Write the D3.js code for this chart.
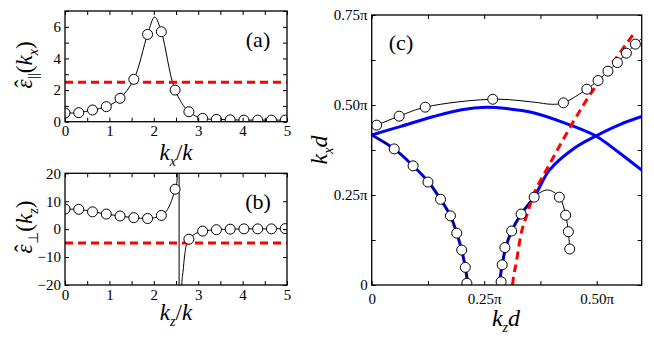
<!DOCTYPE html>
<html>
<head>
<meta charset="utf-8">
<script src="https://cdn.jsdelivr.net/npm/d3@7"></script>
<style>
body { margin: 0; background: #fff; }
svg { display: block; font-family: "Liberation Serif", "Times New Roman", serif; }
</style>
</head>
<body>
<svg id="fig" width="654" height="343"></svg>
<script>
"use strict";

// ---- panel (a): eps_par(kx) ----
const aKx = [0, 0.31, 0.62, 0.93, 1.24, 1.55, 1.86, 2.17, 2.48, 2.79, 3.1, 3.41, 3.72, 4.03, 4.34, 4.65, 4.96];
const aEps = [0.55, 0.57, 0.74, 0.95, 1.48, 2.68, 5.52, 5.69, 2.0, 0.63, 0.21, 0.15, 0.12, 0.1, 0.1, 0.1, 0.1];
const aPeak = [[2.02, 6.62]];
const aLevel = 2.5;

// ---- panel (b): eps_perp(kz) ----
const bKz = [0, 0.31, 0.62, 0.93, 1.24, 1.55, 1.86, 2.17, 2.48, 2.79, 3.1, 3.41, 3.72, 4.03, 4.34, 4.65, 4.96];
const bEps = [7.2, 7.1, 6.2, 5.4, 4.7, 4.1, 3.8, 4.9, 14.3, -3.6, -0.7, -0.2, 0.0, 0.1, 0.1, 0.1, 0.2];
const bPoleLeft = [[2.52, 17], [2.545, 26]];
const bPole = [[2.57, 25], [2.57, -25]];
const bPoleRight = [[2.625, -25], [2.63, -20], [2.66, -15], [2.69, -10], [2.74, -5.2]];
const bLevel = -5;

// ---- panel (c): kx d vs kz d (units of pi) ----
const cUpper = [[0.011, 0.444], [0.061, 0.469], [0.119, 0.494], [0.269, 0.516], [0.426, 0.506],
  [0.478, 0.544], [0.503, 0.568], [0.525, 0.594], [0.546, 0.618], [0.566, 0.644], [0.586, 0.669]];
const cUpperLine = [[0.36, 0.508], [0.40, 0.502], [0.6, 0.685]];
const cLowLeft = [[0.05, 0.378], [0.092, 0.331], [0.125, 0.286], [0.153, 0.238], [0.175, 0.192],
  [0.189, 0.144], [0.2, 0.097], [0.208, 0.049], [0.2115, 0.005]];
const cLowLeftStart = [[0, 0.4167]];
const cLowRight = [[0.2876, 0.009], [0.29, 0.056], [0.296, 0.104], [0.311, 0.15], [0.332, 0.197],
  [0.361, 0.244], [0.417, 0.244], [0.431, 0.194], [0.437, 0.148], [0.44, 0.1]];
const cLowRightPeak = [0.391, 0.264];
const blueArcTop = [[0, 0.4167], [0.063, 0.44], [0.136, 0.4675], [0.2, 0.487], [0.254, 0.4936],
  [0.30, 0.49], [0.357, 0.479], [0.431, 0.449], [0.498, 0.414], [0.542, 0.375], [0.6, 0.319]];
const blueArcLeft = [[0, 0.4167], [0.05, 0.378], [0.092, 0.331], [0.125, 0.288], [0.153, 0.238],
  [0.175, 0.192], [0.189, 0.144], [0.2, 0.097], [0.208, 0.049], [0.214, 0]];
const blueArcRight = [[0.283, 0], [0.29, 0.056], [0.298, 0.104], [0.311, 0.15], [0.332, 0.197],
  [0.361, 0.244], [0.395, 0.319], [0.45, 0.38], [0.498, 0.414], [0.55, 0.445], [0.6, 0.468]];
const redCurve = [[0.313, 0], [0.316, 0.03], [0.321, 0.06], [0.333, 0.148], [0.346, 0.199],
  [0.361, 0.255], [0.395, 0.335], [0.446, 0.449], [0.487, 0.532], [0.54, 0.625], [0.586, 0.704]];

const svg = d3.select("#fig");
const serif = '"Liberation Serif", "Times New Roman", serif';

function near(list, v) {
    return list.some(t => Math.abs(t - v) < 1e-9);
}

// boxed axes with inward ticks on every side
function drawAxes(g, x, y, o) {
    const [x0, x1] = x.range();
    const [y0, y1] = y.range();
    const style = sel => {
        sel.attr("font-family", serif).attr("font-size", 15);
        sel.select(".domain").remove();
        sel.selectAll(".tick line").attr("stroke", "#000").attr("stroke-width", 1);
        sel.selectAll(".tick text").attr("fill", "#000");
    };
    const lab = (labels, fmt) => d => near(labels, d) ? fmt(d) : "";
    g.append("g").attr("transform", `translate(0,${y0})`)
        .call(d3.axisBottom(x).tickValues(o.xTicks).tickSizeInner(-4).tickSizeOuter(0)
            .tickPadding(o.padX).tickFormat(lab(o.xLabels, o.fmtX))).call(style);
    g.append("g").attr("transform", `translate(0,${y1})`)
        .call(d3.axisTop(x).tickValues(o.xTicks).tickSizeInner(-4).tickSizeOuter(0).tickFormat("")).call(style);
    g.append("g").attr("transform", `translate(${x0},0)`)
        .call(d3.axisLeft(y).tickValues(o.yTicks).tickSizeInner(-4).tickSizeOuter(0)
            .tickPadding(o.padY).tickFormat(lab(o.yLabels, o.fmtY))).call(style);
    g.append("g").attr("transform", `translate(${x1},0)`)
        .call(d3.axisRight(y).tickValues(o.yTicks).tickSizeInner(-4).tickSizeOuter(0).tickFormat("")).call(style);
    g.append("rect")
        .attr("x", x0).attr("y", y1).attr("width", x1 - x0).attr("height", y0 - y1)
        .attr("fill", "none").attr("stroke", "#000").attr("stroke-width", 1.3);
}

// text built from pieces: {t, it, size, dx, dy}
function richText(g, x, y, parts, size, rotate) {
    const t = g.append("text")
        .attr("transform", `translate(${x},${y})` + (rotate ? " rotate(-90)" : ""))
        .attr("text-anchor", "middle").attr("font-family", serif)
        .attr("font-size", size).attr("fill", "#000");
    parts.forEach(p => {
        const s = t.append("tspan").text(p.t);
        if (p.it) s.attr("font-style", "italic");
        if (p.size) s.attr("font-size", p.size);
        if (p.dx) s.attr("dx", p.dx);
        if (p.dy) s.attr("dy", p.dy);
    });
    return t;
}

// subscripted symbol pieces, e.g. k_x
const sub = (t, it) => [{ t, it, size: 14, dy: 6 }];
const kSub = (s) => [{ t: "k", it: true }].concat(sub(s, true));

function clipRect(id, x, y) {
    svg.append("clipPath").attr("id", id).append("rect")
        .attr("x", x.range()[0]).attr("y", y.range()[1])
        .attr("width", x.range()[1] - x.range()[0]).attr("height", y.range()[0] - y.range()[1]);
}

function circles(g, x, y, pts) {
    g.append("g").selectAll("circle").data(pts).join("circle")
        .attr("cx", d => x(d[0])).attr("cy", d => y(d[1])).attr("r", 5)
        .attr("fill", "#fff").attr("stroke", "#000").attr("stroke-width", 1);
}

function path(g, pts, line, stroke, width, dash) {
    const p = g.append("path").datum(pts).attr("d", line)
        .attr("fill", "none").attr("stroke", stroke).attr("stroke-width", width);
    if (dash) p.attr("stroke-dasharray", dash);
    return p;
}

// ---------- panel (a) ----------
{
    const x = d3.scaleLinear().domain([0, 5]).range([65, 287]);
    const y = d3.scaleLinear().domain([0, 7]).range([121.7, 11]);
    const g = svg.append("g");
    clipRect("clipA", x, y);
    const pts = aKx.map((k, i) => [k, aEps[i]]);
    const linePts = pts.concat(aPeak).sort((a, b) => a[0] - b[0]);
    const line = d3.line().x(d => x(d[0])).y(d => y(d[1])).curve(d3.curveCatmullRom.alpha(0.5));
    const pl = g.append("g").attr("clip-path", "url(#clipA)");
    path(pl, linePts, line, "#000", 1);
    path(pl, x.domain().map(v => [v, aLevel]), line, "#ff0000", 3, "8,5");
    circles(pl, x, y, pts);
    drawAxes(g, x, y, {
        xTicks: d3.range(0, 5.01, 0.5), xLabels: [0, 1, 2, 3, 4, 5], fmtX: d3.format("d"), padX: 4,
        yTicks: d3.range(0, 7.01, 1), yLabels: [0, 2, 4, 6], fmtY: d3.format("d"), padY: 4
    });
    richText(g, 258, 47, [{ t: "(a)" }], 22);
    richText(g, 176, 160, kSub("x").concat([{ t: "/", dy: -6 }, { t: "k", it: true }]), 23);
    richText(g, 32, 65, [{ t: "\u03b5", it: true }, { t: "\u02c6", dx: -8, dy: -1 },
        { t: "||", size: 14, dx: 1, dy: 7 }, { t: "(", dy: -6 }].concat(kSub("x"), [{ t: ")", dy: -6 }]), 23, true);
}

// ---------- panel (b) ----------
{
    const x = d3.scaleLinear().domain([0, 5]).range([65, 287]);
    const y = d3.scaleLinear().domain([-20, 20]).range([285, 173.3]);
    const g = svg.append("g");
    clipRect("clipB", x, y);
    const pts = bKz.map((k, i) => [k, bEps[i]]);
    const line = d3.line().x(d => x(d[0])).y(d => y(d[1])).curve(d3.curveMonotoneX);
    const straight = d3.line().x(d => x(d[0])).y(d => y(d[1]));
    const pl = g.append("g").attr("clip-path", "url(#clipB)");
    path(pl, pts.slice(0, 9).concat(bPoleLeft), line, "#000", 1);
    path(pl, bPole, straight, "#000", 1);
    path(pl, bPoleRight.concat(pts.slice(9)), line, "#000", 1);
    path(pl, x.domain().map(v => [v, bLevel]), straight, "#ff0000", 3, "8,5");
    circles(pl, x, y, pts);
    drawAxes(g, x, y, {
        xTicks: d3.range(0, 5.01, 0.5), xLabels: [0, 1, 2, 3, 4, 5], fmtX: d3.format("d"), padX: 4,
        yTicks: d3.range(-20, 20.01, 10), yLabels: [-20, -10, 0, 10, 20], fmtY: d3.format("d"), padY: 4
    });
    richText(g, 258, 209, [{ t: "(b)" }], 22);
    richText(g, 176, 320, kSub("z").concat([{ t: "/", dy: -6 }, { t: "k", it: true }]), 23);
    richText(g, 32, 227, [{ t: "\u03b5", it: true }, { t: "\u02c6", dx: -8, dy: -1 },
        { t: "\u22a5", size: 14, dx: 1, dy: 7 }, { t: "(", dy: -6 }].concat(kSub("z"), [{ t: ")", dy: -6 }]), 23, true);
}

// ---------- panel (c) ----------
{
    const x = d3.scaleLinear().domain([0, 0.6]).range([371.7, 641.7]);
    const y = d3.scaleLinear().domain([0, 0.75]).range([285, 15]);
    const g = svg.append("g");
    clipRect("clipC", x, y);
    const line = d3.line().x(d => x(d[0])).y(d => y(d[1])).curve(d3.curveCatmullRom.alpha(0.5));
    const pl = g.append("g").attr("clip-path", "url(#clipC)");
    const piFmt = d => d === 0 ? "0" : d3.format(".2f")(d) + "\u03c0";

    path(pl, blueArcTop, line, "#0000ff", 3);
    path(pl, blueArcLeft, line, "#0000ff", 3);
    path(pl, blueArcRight, line, "#0000ff", 3);
    path(pl, redCurve, line, "#ff0000", 3, "8,5");

    const upper = cUpper.concat(cUpperLine).sort((a, b) => a[0] - b[0]);
    path(pl, upper, line, "#000", 1);
    path(pl, cLowLeftStart.concat(cLowLeft), line, "#000", 1);
    const right = cLowRight.slice(0, 6).concat([cLowRightPeak], cLowRight.slice(6));
    path(pl, right, line, "#000", 1);

    circles(pl, x, y, cUpper);
    circles(pl, x, y, cLowLeft);
    circles(pl, x, y, cLowRight);

    drawAxes(g, x, y, {
        xTicks: d3.range(0, 0.601, 0.125), xLabels: [0, 0.25, 0.5], fmtX: piFmt, padX: 8,
        yTicks: d3.range(0, 0.751, 0.125), yLabels: [0, 0.25, 0.5, 0.75], fmtY: piFmt, padY: 4
    });
    richText(g, 401, 50, [{ t: "(c)" }], 22);
    richText(g, 506, 326, kSub("z").concat([{ t: "d", it: true, dy: -6 }]), 24);
    richText(g, 327, 150, kSub("x").concat([{ t: "d", it: true, dy: -6 }]), 24, true);
}
</script>
</body>
</html>
